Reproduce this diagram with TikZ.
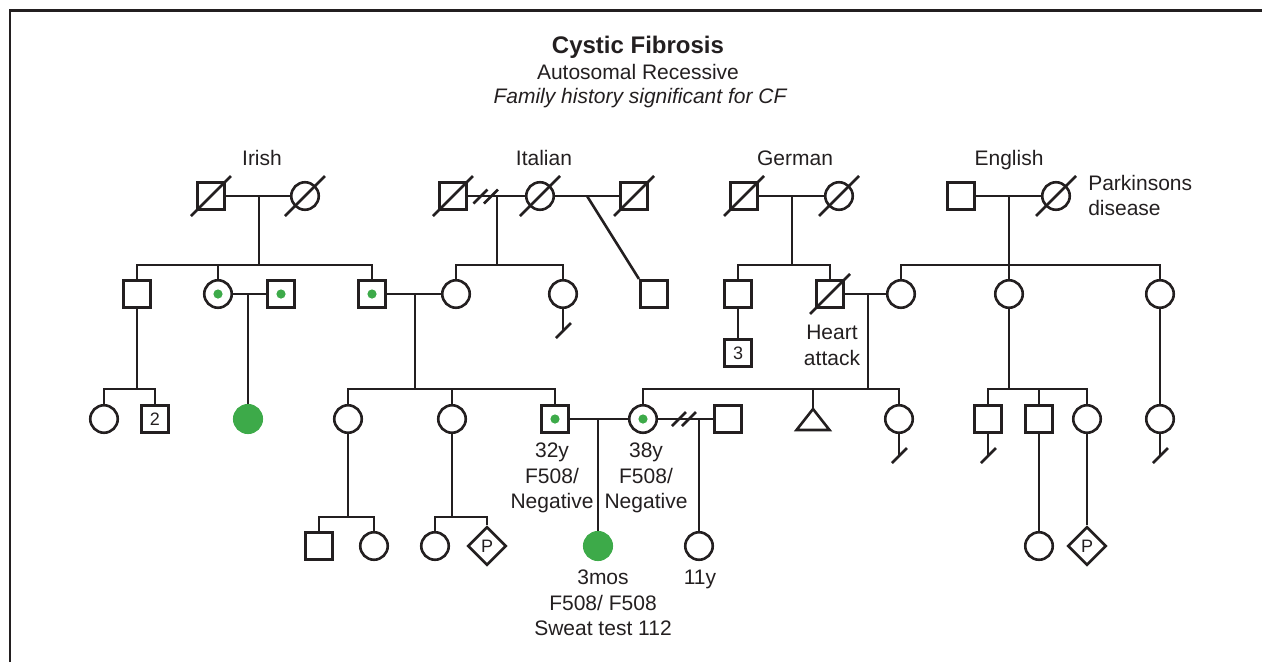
\documentclass[tikz,border=0pt]{standalone}
\usepackage{fontspec}
\setmainfont{Liberation Sans}
\usetikzlibrary{shapes.geometric}
\definecolor{ink}{RGB}{35,31,32}
\definecolor{cfgreen}{RGB}{61,170,73}
\begin{document}
\begin{tikzpicture}[
x=1pt, y=-1pt,
color=ink,
line width=2.6pt,
every node/.style={
inner sep=0pt,
font=\fontsize{21}{25.5}\selectfont
},
male/.style={
draw,
rectangle,
minimum size=27.5pt,
font=\fontsize{18}{20}\selectfont
},
female/.style={
draw,
circle,
minimum size=27.5pt
},
unknown/.style={
draw,
diamond,
minimum size=38.5pt,
font=\fontsize{18}{20}\selectfont
},
carrier/.style={
path picture={\fill[cfgreen] (path picture bounding box.center) circle (4.6pt);}
},
affected/.style={
circle,
minimum size=27.5pt,
draw=cfgreen,
fill=cfgreen
},
lbl/.style={
align=center
}
]

\useasboundingbox (0,0) rectangle (1262,662);

\draw[line width=2.6pt] (10,662) -- (10,10.3) -- (1262,10.3);

\node[anchor=base, font=\bfseries\fontsize{24}{28}\selectfont] (title) at (638,53)
{Cystic Fibrosis};

\node[anchor=base] (mode) at (638,79)
{Autosomal Recessive};

\node[anchor=base, font=\itshape\fontsize{21}{25.5}\selectfont] (hist) at (640,103)
{Family history significant for CF};

\node[anchor=base] (lirish) at (262,165)
{Irish};

\node[anchor=base] (litalian) at (544,165)
{Italian};

\node[anchor=base] (lgerman) at (795,165)
{German};

\node[anchor=base] (lenglish) at (1009,165)
{English};

\node[male] (irishgf) at (211,196) {};
\node[female] (irishgm) at (305,196) {};
\node[male] (italgf) at (453,196) {};
\node[female] (italgm) at (540,196) {};
\node[male] (italsf) at (634,196) {};
\node[male] (germgf) at (744,196) {};
\node[female] (germgm) at (839,196) {};
\node[male] (enggf) at (961,196) {};
\node[female] (enggm) at (1056,196) {};

\node[lbl, anchor=north west, align=left, font=\fontsize{21}{25}\selectfont] (lpark) at (1087,174)
{Parkinsons\\disease};

\node[male] (ir1) at (137,294) {};
\node[female, carrier] (ir2) at (218,294) {};
\node[male, carrier] (ir2sp) at (281,294) {};
\node[male, carrier] (ir3) at (372,294) {};
\node[female] (it1) at (456,294) {};
\node[female] (it2) at (563,294) {};
\node[male] (it3) at (654,294) {};
\node[male] (ge1) at (738,294) {};
\node[male] (ge2) at (830,294) {};
\node[female] (en1) at (901,294) {};
\node[female] (en2) at (1009,294) {};
\node[female] (en3) at (1160,294) {};

\node[male] (sq3) at (738,353) {3};

\node[lbl, anchor=north] (lheart) at (832,324)
{Heart\\attack};

\node[female] (c1) at (104,419) {};
\node[male] (c2) at (155,419) {2};
\node[affected] (aff1) at (248,419) {};
\node[female] (d1) at (348,419) {};
\node[female] (d2) at (452,419) {};
\node[male, carrier] (d3) at (555,419) {};
\node[female, carrier] (e1) at (643,419) {};
\node[male] (e1sp) at (728,419) {};
\coordinate (e2) at (813,409);
\node[female] (e3) at (899,419) {};
\node[male] (f1) at (988,419) {};
\node[male] (f2) at (1039,419) {};
\node[female] (f3) at (1087,419) {};
\node[female] (g1) at (1160,419) {};

\node[lbl, anchor=north] (l32) at (552,442)
{32y\\F508/\\Negative};

\node[lbl, anchor=north] (l38) at (646,442)
{38y\\F508/\\Negative};

\node[male] (k1) at (319,546) {};
\node[female] (k2) at (374,546) {};
\node[female] (k3) at (435,546) {};
\node[unknown] (k4) at (487,546) {P};
\node[affected] (proband) at (598,546) {};
\node[female] (half) at (699,546) {};
\node[female] (m1) at (1039,546) {};
\node[unknown] (m2) at (1087,546) {P};

\node[lbl, anchor=north] (lprob) at (603,569)
{3mos\\F508/ F508\\Sweat test 112};

\node[anchor=north] (l11) at (700,569)
{11y};

\coordinate (mir) at (259,196);
\coordinate (sir) at (259,265);
\coordinate (mit) at (497,196);
\coordinate (sit) at (497,265);
\coordinate (mst) at (587,196);
\coordinate (mge) at (792,196);
\coordinate (sge) at (792,265);
\coordinate (men) at (1009,196);
\coordinate (sen) at (1009,265);
\coordinate (mb) at (248,294);
\coordinate (mc) at (415,294);
\coordinate (sc) at (415,389);
\coordinate (md) at (868,294);
\coordinate (sd) at (868,389);
\coordinate (s1) at (137,389);
\coordinate (sf) at (1009,389);
\coordinate (mp) at (598,419);
\coordinate (mh) at (699,419);
\coordinate (sk1) at (348,517);
\coordinate (sk2) at (452,517);
\coordinate (h1) at (480.5,196.5);
\coordinate (h2) at (491,196.5);
\coordinate (h3) at (679,419);
\coordinate (h4) at (689,419);

\draw (irishgf) -- (irishgm);
\draw (italgf) -- (italgm);
\draw (italgm) -- (italsf);
\draw (germgf) -- (germgm);
\draw (enggf) -- (enggm);

\draw (mir) -- (sir);
\draw (ir1.north) |- (ir3.north |- sir) -- (ir3.north);
\draw (ir2.north) -- (ir2.north |- sir);
\draw (mit) -- (sit);
\draw (it1.north) |- (it2.north |- sit) -- (it2.north);
\draw (mst) -- (it3.north west);
\draw (mge) -- (sge);
\draw (ge1.north) |- (ge2.north |- sge) -- (ge2.north);
\draw (men) -- (sen);
\draw (en1.north) |- (en3.north |- sen) -- (en3.north);
\draw (sen) -- (en2.north);

\draw (ir2) -- (ir2sp);
\draw (ir3) -- (it1);
\draw (ge2) -- (en1);
\draw (mb) -- (aff1);
\draw (mc) -- (sc);
\draw (d1.north) |- (d3.north |- sc) -- (d3.north);
\draw (d2.north) -- (d2.north |- sc);
\draw (md) -- (sd);
\draw (e1.north) |- (e3.north |- sd) -- (e3.north);
\draw (e2) -- (e2 |- sd);
\draw (e2) -- ++(16.5,21) -- ++(-33,0) -- cycle;
\draw (ir1) -- (s1);
\draw (c1.north) |- (c2.north |- s1) -- (c2.north);
\draw (ge1) -- (sq3);
\draw (en2) -- (sf);
\draw (f1.north) |- (f3.north |- sf) -- (f3.north);
\draw (f2.north) -- (f2.north |- sf);
\draw (en3) -- (g1);

\draw (d3) -- (e1);
\draw (mp) -- (proband);
\draw (e1) -- (e1sp);
\draw (mh) -- (half);
\draw (d1) -- (sk1);
\draw (k1.north) |- (k2.north |- sk1) -- (k2.north);
\draw (d2) -- (sk2);
\draw (k3.north) |- (k4.north |- sk2) -- (k4.north);
\draw (f2) -- (m1);
\draw (f3) -- (m2);

\foreach \n in {irishgf,irishgm,italgf,italgm,italsf,germgf,germgm,enggm,ge2}
\draw ([shift={(-20pt,-20pt)}]\n.center) -- ([shift={(20pt,20pt)}]\n.center);

\foreach \n in {it2,e3,f1,g1} {
\draw (\n.south) -- ++(0,21);
\draw ([shift={(-7pt,-29pt)}]\n.south) -- ([shift={(8pt,-14pt)}]\n.south);
}

\foreach \h in {h1,h2,h3,h4}
\draw ([shift={(-7pt,-7pt)}]\h) -- ([shift={(7pt,7pt)}]\h);

\end{tikzpicture}
\end{document}
